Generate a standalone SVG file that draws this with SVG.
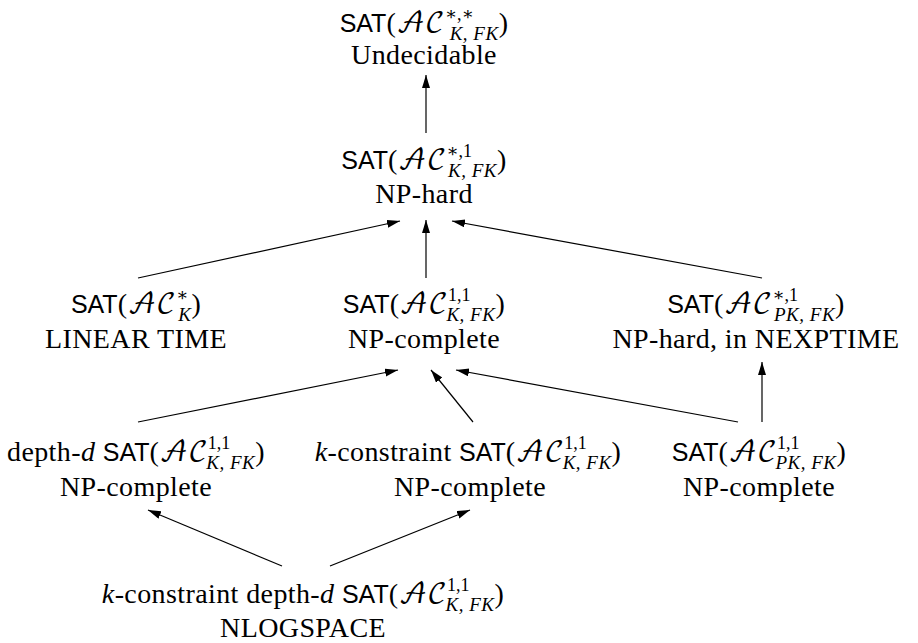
<svg xmlns="http://www.w3.org/2000/svg" width="918" height="643" viewBox="0 0 918 643">
<defs>
<style>
.t{font-family:"Liberation Serif","DejaVu Serif",serif;font-size:28px;letter-spacing:0.4px;fill:#000;text-anchor:middle}
.sf{font-family:"Liberation Sans","DejaVu Sans",sans-serif;font-size:25px;letter-spacing:0}
.cal{font-family:"DejaVu Math TeX Gyre","Noto Sans Math","DejaVu Serif",serif;font-size:27px;letter-spacing:0}
.sup{font-size:18px;letter-spacing:0}
.sub{font-size:19px;font-style:italic;letter-spacing:0.5px}
.i{font-style:italic}
.ar{stroke:#000;stroke-width:1.2;fill:none;marker-end:url(#ah)}
</style>
<marker id="ah" markerUnits="userSpaceOnUse" markerWidth="14" markerHeight="10" refX="13" refY="4" orient="auto">
<path d="M0,0 L13,4 L0,8 Z" fill="#000"/>
</marker>
</defs>
<g id="connectors">
<line class="ar" x1="426" y1="133" x2="426" y2="75"/>
<line class="ar" x1="138" y1="278" x2="400" y2="221"/>
<line class="ar" x1="426" y1="278" x2="426" y2="220"/>
<line class="ar" x1="762" y1="278" x2="452" y2="221"/>
<line class="ar" x1="138" y1="422" x2="398" y2="370"/>
<line class="ar" x1="473" y1="422" x2="431" y2="370"/>
<line class="ar" x1="738" y1="422" x2="456" y2="370"/>
<line class="ar" x1="762" y1="422" x2="762" y2="362"/>
<line class="ar" x1="282" y1="566" x2="148" y2="510"/>
<line class="ar" x1="330" y1="566" x2="470" y2="510"/>
</g>
<g id="n-undecidable">
<text class="t" x="424" y="32"><tspan class="sf">SAT</tspan>(<tspan class="cal">𝒜𝒞</tspan><tspan class="sup" dy="-12">∗,∗</tspan><tspan class="sub" dx="-24" dy="20">K, FK</tspan><tspan dy="-8">)</tspan></text>
<text class="t" x="424" y="64">Undecidable</text>
</g>
<g id="n-nphard">
<text class="t" x="424" y="169"><tspan class="sf">SAT</tspan>(<tspan class="cal">𝒜𝒞</tspan><tspan class="sup" dy="-12">∗,1</tspan><tspan class="sub" dx="-24" dy="20">K, FK</tspan><tspan dy="-8">)</tspan></text>
<text class="t" x="424" y="203">NP-hard</text>
</g>
<g id="n-linear">
<text class="t" x="136" y="313"><tspan class="sf">SAT</tspan>(<tspan class="cal">𝒜𝒞</tspan><tspan class="sup" dy="-12">∗</tspan><tspan class="sub" dx="-10" dy="20">K</tspan><tspan dy="-8">)</tspan></text>
<text class="t" x="136" y="348">LINEAR TIME</text>
</g>
<g id="n-npcomplete">
<text class="t" x="424" y="313"><tspan class="sf">SAT</tspan>(<tspan class="cal">𝒜𝒞</tspan><tspan class="sup" dy="-12">1,1</tspan><tspan class="sub" dx="-24" dy="20">K, FK</tspan><tspan dy="-8">)</tspan></text>
<text class="t" x="424" y="348">NP-complete</text>
</g>
<g id="n-nexptime">
<text class="t" x="756" y="313"><tspan class="sf">SAT</tspan>(<tspan class="cal">𝒜𝒞</tspan><tspan class="sup" dy="-12">∗,1</tspan><tspan class="sub" dx="-24" dy="20">PK, FK</tspan><tspan dy="-8">)</tspan></text>
<text class="t" x="756" y="348">NP-hard, in NEXPTIME</text>
</g>
<g id="n-depth">
<text class="t" x="136" y="461">depth-<tspan class="i">d</tspan> <tspan class="sf">SAT</tspan>(<tspan class="cal">𝒜𝒞</tspan><tspan class="sup" dy="-12">1,1</tspan><tspan class="sub" dx="-24" dy="20">K, FK</tspan><tspan dy="-8">)</tspan></text>
<text class="t" x="136" y="496">NP-complete</text>
</g>
<g id="n-kconstraint">
<text class="t" x="468" y="461"><tspan class="i">k</tspan>-constraint <tspan class="sf">SAT</tspan>(<tspan class="cal">𝒜𝒞</tspan><tspan class="sup" dy="-12">1,1</tspan><tspan class="sub" dx="-24" dy="20">K, FK</tspan><tspan dy="-8">)</tspan></text>
<text class="t" x="470" y="496">NP-complete</text>
</g>
<g id="n-pk">
<text class="t" x="759" y="461"><tspan class="sf">SAT</tspan>(<tspan class="cal">𝒜𝒞</tspan><tspan class="sup" dy="-12">1,1</tspan><tspan class="sub" dx="-24" dy="20">PK, FK</tspan><tspan dy="-8">)</tspan></text>
<text class="t" x="759" y="496">NP-complete</text>
</g>
<g id="n-nlogspace">
<text class="t" x="303" y="603"><tspan class="i">k</tspan>-constraint depth-<tspan class="i">d</tspan> <tspan class="sf">SAT</tspan>(<tspan class="cal">𝒜𝒞</tspan><tspan class="sup" dy="-12">1,1</tspan><tspan class="sub" dx="-24" dy="20">K, FK</tspan><tspan dy="-8">)</tspan></text>
<text class="t" x="303" y="637">NLOGSPACE</text>
</g>
</svg>
